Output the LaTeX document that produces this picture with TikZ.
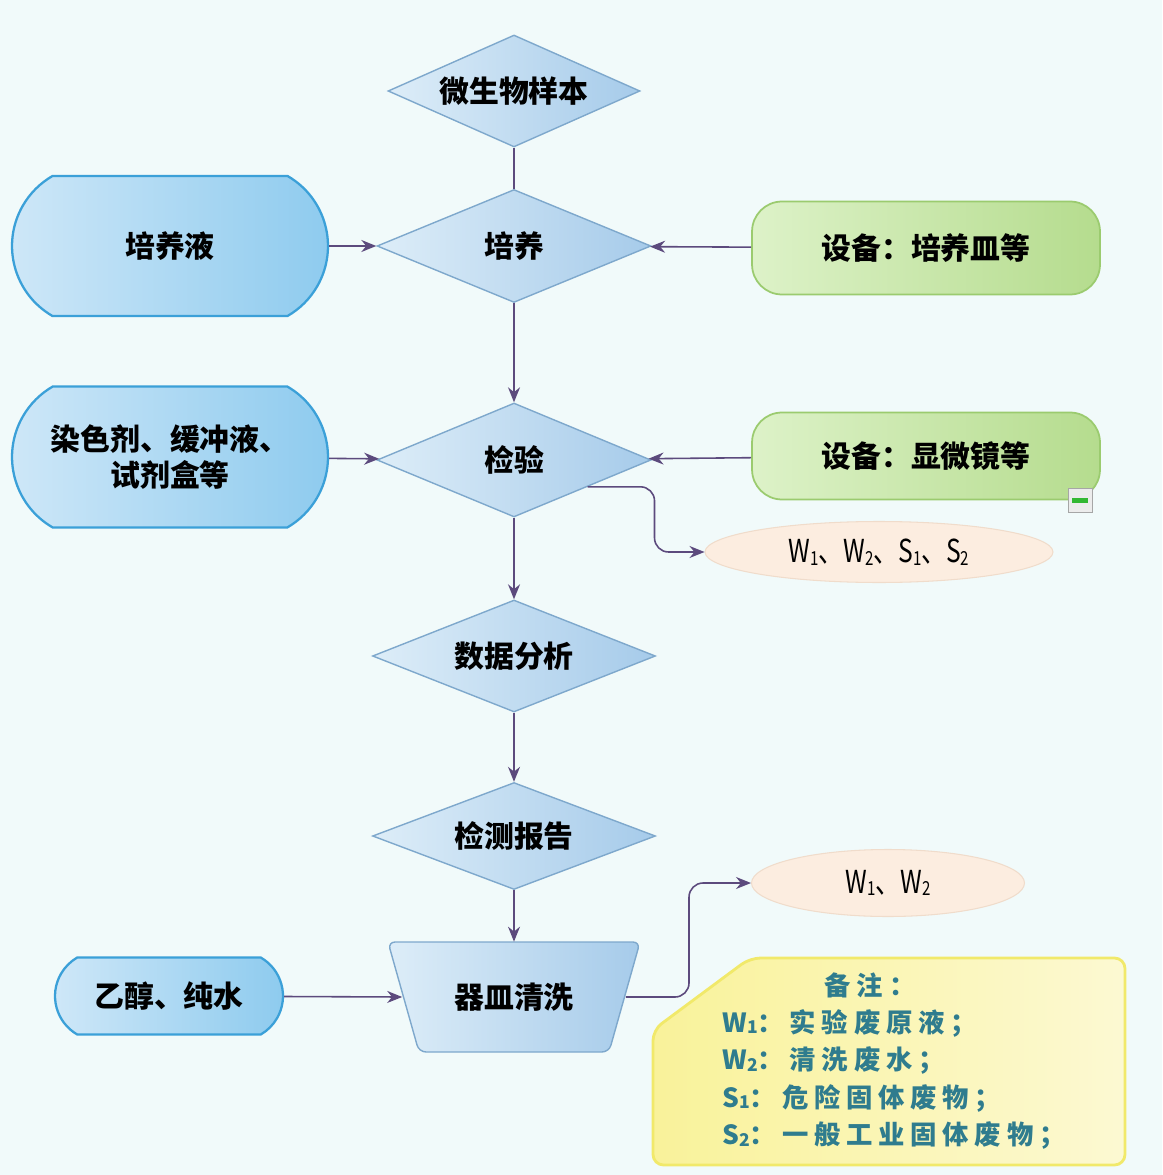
\documentclass[tikz,border=0pt]{standalone}
\usepackage{fontspec}
\usepackage{graphicx}
\setmainfont{Noto Sans CJK SC}
\newfontfamily\notefont[LetterSpace=22]{Noto Sans CJK SC}
\usetikzlibrary{shapes.geometric,shapes.misc,arrows.meta}

\definecolor{bgcol}{HTML}{F1FAFA}
\definecolor{diaA}{HTML}{DDEDF8}
\definecolor{diaB}{HTML}{A6CBEA}
\definecolor{diaE}{HTML}{7EA8CC}
\definecolor{stadA}{HTML}{D0E8F8}
\definecolor{stadB}{HTML}{8CCAEE}
\definecolor{stadE}{HTML}{3BA0D8}
\definecolor{grnA}{HTML}{DDF2C8}
\definecolor{grnB}{HTML}{B5DC8E}
\definecolor{grnE}{HTML}{9BCB6F}
\definecolor{peach}{HTML}{FCEDE0}
\definecolor{peachE}{HTML}{F0DCCB}
\definecolor{noteA}{HTML}{F9F29A}
\definecolor{noteB}{HTML}{FCF9D2}
\definecolor{noteE}{HTML}{F1E96A}
\definecolor{notecol}{HTML}{2F7C8E}
\definecolor{linecol}{HTML}{5C4A7D}

\newcommand{\idx}[1]{\raisebox{-0.15ex}{\fontsize{11}{11}\selectfont #1}}
\newcommand{\nidx}[1]{\raisebox{-0.1ex}{\fontsize{10}{10}\selectfont #1}}

\tikzset{
  dia/.style={diamond, aspect=2.5, draw=diaE, line width=0.8pt, left color=diaA, right color=diaB,
    inner sep=0pt, font=\bfseries\fontsize{17}{20}\selectfont},
  stad/.style={rounded rectangle, rounded rectangle arc length=120, draw=stadE, line width=1.3pt,
    left color=stadA, right color=stadB, inner sep=0pt, align=center,
    font=\bfseries\fontsize{17}{21}\selectfont},
  equip/.style={rectangle, rounded corners=0.6cm, draw=grnE, line width=1pt,
    left color=grnA, right color=grnB, inner sep=0pt, font=\bfseries\fontsize{17}{20}\selectfont},
  waste/.style={ellipse, draw=peachE, line width=0.6pt, fill=peach, inner sep=0pt},
  arr/.style={draw=linecol, line width=0.9pt, -{Stealth[length=3mm,width=2.4mm]}},
  link/.style={draw=linecol, line width=0.9pt}
}

\begin{document}
\begin{tikzpicture}[x=0.02cm, y=-0.02cm]

\path [use as bounding box, fill=bgcol] (0,0) rectangle (1162,1175);

\node (sample) at (514,91) [dia, minimum width=5.04cm, minimum height=2.24cm] {微生物样本};
\node (culture) at (514,246) [dia, minimum width=5.48cm, minimum height=2.26cm] {培养};
\node (test) at (514,460) [dia, minimum width=5.48cm, minimum height=2.28cm] {检验};
\node (data) at (514,656) [dia, minimum width=5.66cm, minimum height=2.24cm] {数据分析};
\node (report) at (514,836) [dia, minimum width=5.66cm, minimum height=2.14cm] {检测报告};

\draw [draw=diaE, line width=0.8pt, left color=diaA, right color=diaB, rounded corners=4]
  (388,942) -- (640,942) -- (609,1052) -- (419,1052) -- cycle;
\node (clean) at (514,997) [rectangle, minimum width=5.08cm, minimum height=2.2cm, inner sep=0pt,
  font=\bfseries\fontsize{17}{20}\selectfont] {器皿清洗};

\node (medium) at (170,246) [stad, minimum width=6.32cm, minimum height=2.8cm] {培养液};
\node (reagent) at (170,457) [stad, minimum width=6.32cm, minimum height=2.82cm] {染色剂、缓冲液、\\试剂盒等};
\node (water) at (169,996) [stad, minimum width=4.56cm, minimum height=1.54cm] {乙醇、纯水};

\node (dish) at (926,248) [equip, minimum width=6.96cm, minimum height=1.86cm] {设备：培养皿等};
\node (scope) at (926,456) [equip, minimum width=6.96cm, minimum height=1.74cm] {设备：显微镜等};
\node (fold) at (1080,500) [draw=gray!70, fill=gray!15, minimum size=0.48cm, inner sep=0pt] {};
\node (foldbar) at (fold.center) [fill=green!65!black!80, minimum width=0.32cm, minimum height=0.1cm, inner sep=0pt] {};

\node (wasteA) at (879,552) [waste, minimum width=6.96cm, minimum height=1.22cm]
  {\scalebox{0.78}[1]{\fontsize{18}{20}\selectfont W\idx{1}、W\idx{2}、S\idx{1}、S\idx{2}}};
\node (wasteB) at (888,883) [waste, minimum width=5.46cm, minimum height=1.34cm]
  {\scalebox{0.78}[1]{\fontsize{18}{20}\selectfont W\idx{1}、W\idx{2}}};

\draw [draw=noteE, line width=1.6pt, left color=noteA, right color=noteB, rounded corners=6]
  (750,958) -- (1125,958) -- (1125,1165) -- (653,1165) -- (653,1030) -- cycle;
\node (note) at (722,972) [anchor=north west, align=left, inner sep=0pt, text=notecol,
  font=\notefont\bfseries\fontsize{15}{21.3}\selectfont]
  {\hspace*{2.05cm}备注：\\
   W\nidx{1}：实验废原液；\\
   W\nidx{2}：清洗废水；\\
   S\nidx{1}：危险固体废物；\\
   S\nidx{2}：一般工业固体废物；};

\draw [link] (sample) -- (culture);
\draw [arr] (medium) -- (culture);
\draw [arr] (dish) -- (culture);
\draw [arr] (culture) -- (test);
\draw [arr] (reagent) -- (test);
\draw [arr] (scope) -- (test);
\draw [arr, rounded corners=8] (test.-20) -| ([xshift=-1cm]wasteA.west) -- (wasteA.west);
\draw [arr] (test) -- (data);
\draw [arr] (data) -- (report);
\draw [arr] (report) -- (clean);
\draw [arr] (water) -- ([xshift=0.31cm]clean.west);
\draw [arr, rounded corners=8] ([xshift=-0.31cm]clean.east) -| ([xshift=-1.24cm]wasteB.west) -- (wasteB.west);

\end{tikzpicture}
\end{document}
